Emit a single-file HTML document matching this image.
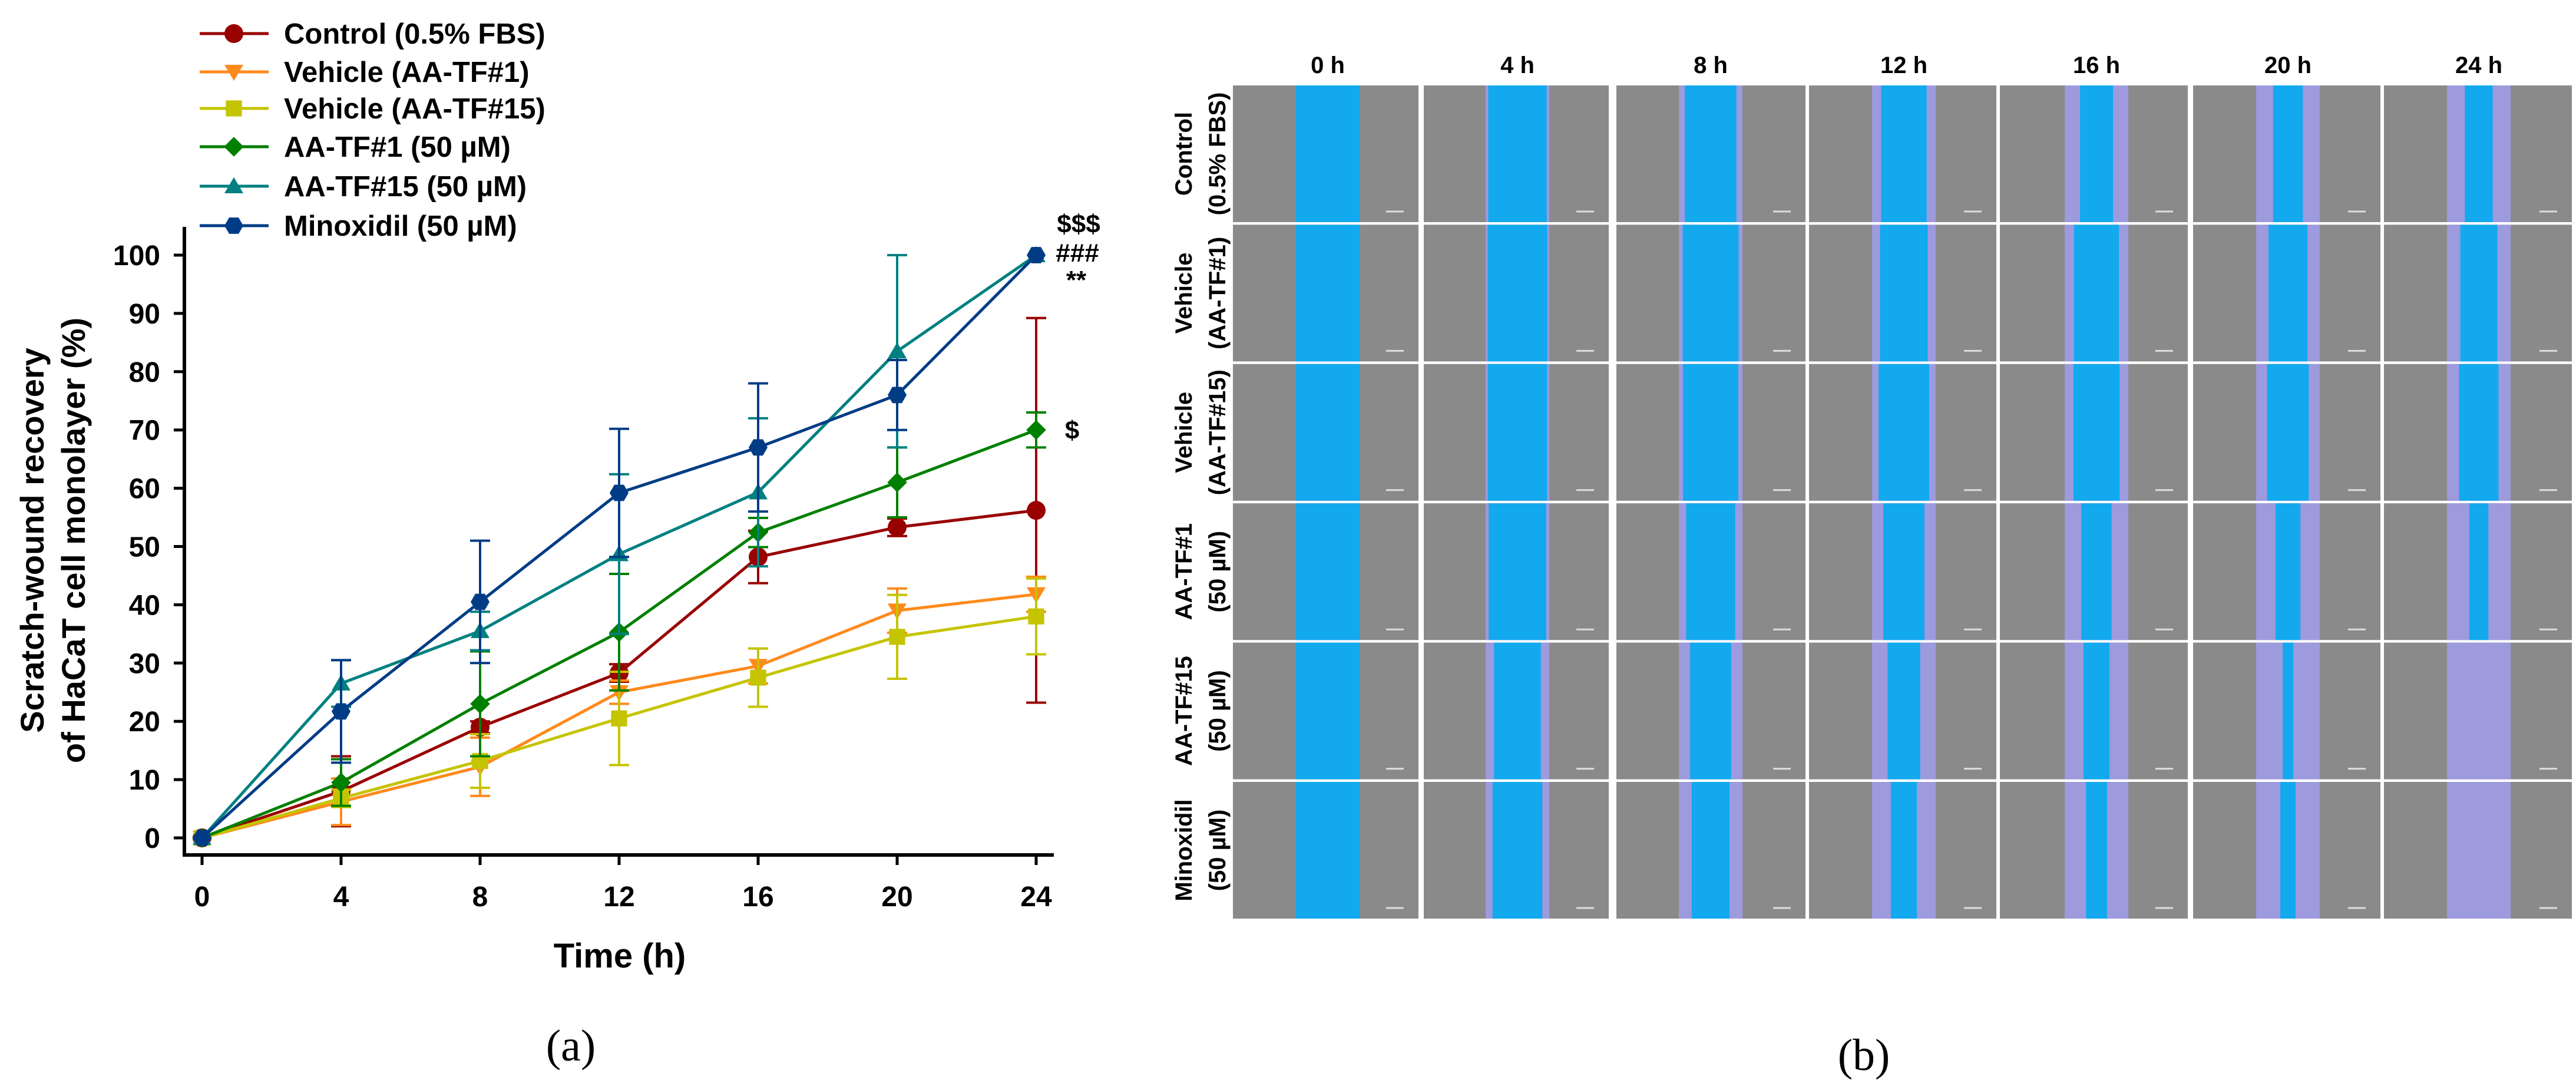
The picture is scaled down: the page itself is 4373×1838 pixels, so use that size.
<!DOCTYPE html>
<html><head><meta charset="utf-8"><style>
html,body{margin:0;padding:0;background:#fff;}
svg{display:block;font-family:"Liberation Sans",Arial,sans-serif;}
</style></head><body>
<svg id="fig" width="4373" height="1838" viewBox="0 0 4373 1838" xmlns="http://www.w3.org/2000/svg">
<g id="chart"></g>
<g id="panelb"></g>
<text x="969" y="1800" font-family="Liberation Serif,serif" font-size="76" text-anchor="middle">(a)</text>
<text x="3164" y="1816" font-family="Liberation Serif,serif" font-size="76" text-anchor="middle">(b)</text>
</svg>
<script>
const times=[0,4,8,12,16,20,24];
const seriesNames=["Control (0.5% FBS)","Vehicle (AA-TF#1)","Vehicle (AA-TF#15)","AA-TF#1 (50 µM)","AA-TF#15 (50 µM)","Minoxidil (50 µM)"];
const controlVals=[0,8,19,28.3,48.2,53.3,56.2];
const controlErr=[0,6,1,1.5,4.5,1.5,33];
const veh1Vals=[0,6.2,12.2,25,29.5,39,41.8];
const veh1Err=[0,4,5,2,3,3.8,3];
const veh15Vals=[0,6.8,13.2,20.5,27.5,34.5,38];
const veh15Err=[0,1.5,4.6,8,5,7.2,6.5];
const tf1Vals=[0,9.5,23,35.3,52.4,61,70];
const tf1Err=[0,4,9,10,2.5,6,3];
const tf15Vals=[0,26.5,35.5,48.7,59.3,83.5,100];
const tf15Err=[0,4,3.3,13.7,12.7,16.5,0];
const minoxVals=[0,21.7,40.5,59.2,67,76,100];
const minoxErr=[0,8.8,10.5,11,11,6,0];
const yTicks=[0,10,20,30,40,50,60,70,80,90,100];
const rowLabels=[["Control","(0.5% FBS)"],["Vehicle","(AA-TF#1)"],["Vehicle","(AA-TF#15)"],["AA-TF#1","(50 µM)"],["AA-TF#15","(50 µM)"],["Minoxidil","(50 µM)"]];
const colLabels=["0 h","4 h","8 h","12 h","16 h","20 h","24 h"];

const NS="http://www.w3.org/2000/svg";
function mk(t,a,p){const e=document.createElementNS(NS,t);for(const k in a)e.setAttribute(k,a[k]);p.appendChild(e);return e;}
const xS=t=>343+t*(1759-343)/24;
const yS=v=>1422-v*(1422-433)/100;
const chart=document.getElementById('chart');
const colors=["#990000","#ff8a1c","#c5c400","#008000","#008080","#003c85"];
const shapes=["circle","down","square","diamond","up","hex"];
const vals=[controlVals,veh1Vals,veh15Vals,tf1Vals,tf15Vals,minoxVals];
const errs=[controlErr,veh1Err,veh15Err,tf1Err,tf15Err,minoxErr];
function marker(shape,cx,cy,r,col,p){
  let e;
  if(shape==="circle")e=mk('circle',{cx,cy,r:r,fill:col},p);
  else if(shape==="square")e=mk('rect',{x:cx-r*0.85,y:cy-r*0.85,width:r*1.7,height:r*1.7,fill:col},p);
  else{let pts=[];
    if(shape==="down")pts=[[-r,-r*0.75],[r,-r*0.75],[0,r*0.95]];
    if(shape==="up")pts=[[-r,r*0.75],[r,r*0.75],[0,-r*0.95]];
    if(shape==="diamond")pts=[[0,-r*1.05],[r*1.05,0],[0,r*1.05],[-r*1.05,0]];
    if(shape==="hex"){for(let i=0;i<6;i++){const a=Math.PI/6+i*Math.PI/3;pts.push([r*Math.sin(a),r*Math.cos(a)]);}}
    e=mk('polygon',{points:pts.map(q=>(cx+q[0])+','+(cy+q[1])).join(' '),fill:col},p);}
  return e;
}
const ax=mk('g',{},chart);


mk('line',{x1:313,y1:385,x2:313,y2:1453,stroke:'#000','stroke-width':6},ax);
mk('line',{x1:310,y1:1451,x2:1789,y2:1451,stroke:'#000','stroke-width':6},ax);
yTicks.forEach(v=>{
  mk('line',{x1:295,y1:yS(v),x2:313,y2:yS(v),stroke:'#000','stroke-width':5},ax);
  const t=mk('text',{x:272,y:yS(v)+17,'font-size':48,'font-weight':'bold','text-anchor':'end'},ax);
  t.textContent=v;
  
  
});
times.forEach(v=>{
  mk('line',{x1:xS(v),y1:1451,x2:xS(v),y2:1468,stroke:'#000','stroke-width':5},ax);
  const t=mk('text',{x:xS(v),y:1538,'font-size':48,'font-weight':'bold','text-anchor':'middle'},ax);
  t.textContent=v;
  
  
});
const xt=mk('text',{x:1052,y:1642,'font-size':58,'font-weight':'bold','text-anchor':'middle'},chart);
xt.textContent='Time (h)';


const yt=mk('text',{transform:'translate(0,917) rotate(-90)','font-size':56,'font-weight':'bold','text-anchor':'middle'},chart);


const ts1=mk('tspan',{x:0,y:74},yt);ts1.textContent='Scratch-wound recovery';
const ts2=mk('tspan',{x:0,y:144},yt);ts2.textContent='of HaCaT cell monolayer (%)';
vals.forEach((sv,si)=>{
  const g=mk('g',{},chart);
  
  
  times.forEach((t,i)=>{
    const e=errs[si][i];if(e<=0)return;
    const x=xS(t),y1=yS(sv[i]+e),y2=yS(sv[i]-e);
    mk('line',{x1:x,y1:y1,x2:x,y2:y2,stroke:colors[si],'stroke-width':4},g);
    mk('line',{x1:x-17,y1:y1,x2:x+17,y2:y1,stroke:colors[si],'stroke-width':4},g);
    mk('line',{x1:x-17,y1:y2,x2:x+17,y2:y2,stroke:colors[si],'stroke-width':4},g);
  });
  mk('polyline',{points:times.map((t,i)=>xS(t)+','+yS(sv[i])).join(' '),fill:'none',stroke:colors[si],'stroke-width':5},g);
  times.forEach((t,i)=>{
    const m=marker(shapes[si],xS(t),yS(sv[i]),16,colors[si],g);
    
    
  });
});
[["$$$",1831,395],["###",1829,444],["**",1827,490],["$",1820,745]].forEach(a=>{
  const t=mk('text',{x:a[1],y:a[2],'font-size':44,'font-weight':'bold','text-anchor':'middle'},chart);
  t.textContent=a[0];
  
  
});
const lg=mk('g',{},chart);


const ly=[57,122,184,249,316,383];
seriesNames.forEach((n,i)=>{
  const e=mk('g',{},lg);
  
  
  mk('line',{x1:339,y1:ly[i],x2:456,y2:ly[i],stroke:colors[i],'stroke-width':5},e);
  marker(shapes[i],397,ly[i],16,colors[i],e);
  const t=mk('text',{x:482,y:ly[i]+17,'font-size':49,'font-weight':'bold'},e);
  t.textContent=n;
});
const pb=document.getElementById('panelb');
const colX=[[2093,2408],[2417,2731],[2744,3065],[3071,3389],[3395,3714],[3723,4041],[4047,4366]];
const colCenter=[2254,2576,2904,3232,3559,3884,4208];
const rowTop=145, rowPitch=236.4, rowH=232;
colLabels.forEach((c,i)=>{
  const t=mk('text',{x:colCenter[i],y:124,'font-size':40,'font-weight':'bold','text-anchor':'middle'},pb);
  t.textContent=c;
  
  
});
rowLabels.forEach((r,ri)=>{
  const y0=rowTop+ri*rowPitch;
  const cy=y0+rowH/2;
  const t=mk('text',{transform:'translate(0,'+cy+') rotate(-90)','font-size':40,'font-weight':'bold','text-anchor':'middle'},pb);
  
  
  const a=mk('tspan',{x:0,y:2023},t);a.textContent=r[0];
  const b=mk('tspan',{x:0,y:2080},t);b.textContent=r[1];
  colX.forEach((cx,ci)=>{
    const g=mk('g',{},pb);
    
    
    mk('rect',{x:cx[0],y:y0,width:cx[1]-cx[0],height:rowH,fill:'#8a8a8a'},g);
    const tot=108, rec=vals[ri][ci];
    const bw=Math.max(0,tot*(1-rec/100));
    const c=colCenter[ci];
    mk('rect',{x:c-tot/2,y:y0,width:tot,height:rowH,fill:'#9d9ade'},g);
    if(bw>0)mk('rect',{x:c-bw/2,y:y0,width:bw,height:rowH,fill:'#12a9ee'},g);
    mk('line',{x1:cx[1]-55,y1:y0+rowH-18,x2:cx[1]-25,y2:y0+rowH-18,stroke:'#ddd','stroke-width':3},g);
  });
});
</script>
</body></html>
